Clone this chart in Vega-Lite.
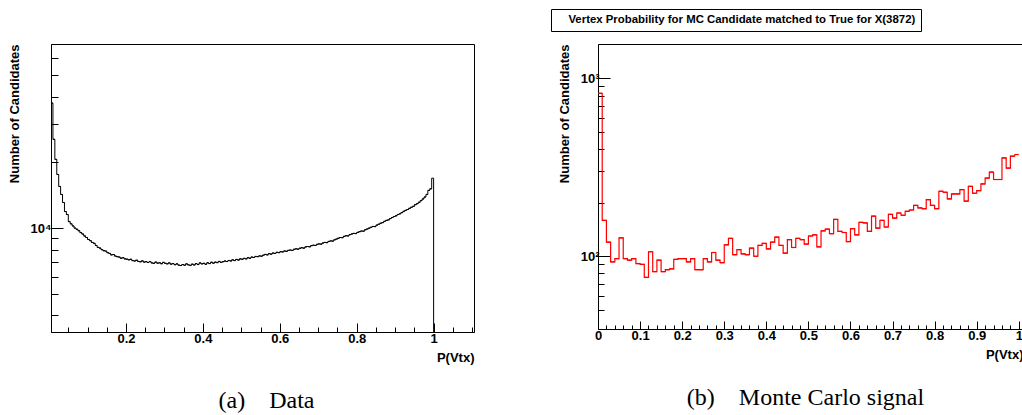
{
  "$schema": "https://vega.github.io/schema/vega-lite/v6.json",
  "background": "white",
  "padding": {"left": 7, "top": 8, "right": 0, "bottom": 0},
  "autosize": {"type": "pad"},
  "spacing": 75,
  "resolve": {"scale": {"stroke": "independent"}, "legend": {"stroke": "independent"}},
  "config": {
    "font": "Liberation Sans",
    "view": {"stroke": "black", "strokeWidth": 1},
    "axis": {
      "grid": false,
      "domainColor": "black",
      "domainWidth": 1,
      "tickColor": "black",
      "tickWidth": 1,
      "labelColor": "black",
      "labelFont": "Liberation Sans",
      "labelFontSize": 13,
      "labelFontWeight": "bold",
      "labelOverlap": false,
      "labelFlush": false,
      "titleColor": "black",
      "titleFont": "Liberation Sans",
      "titleFontSize": 13,
      "titleFontWeight": "bold"
    },
    "title": {
      "font": "Liberation Serif",
      "fontSize": 24,
      "fontWeight": "normal",
      "color": "black",
      "orient": "bottom",
      "anchor": "middle",
      "frame": "group",
      "offset": 25
    }
  },
  "datasets": {
    "data": [
      {"lo": 0.005, "hi": 0.01, "n": 37350}, {"lo": 0.01, "hi": 0.015, "n": 25500}, {"lo": 0.015, "hi": 0.02, "n": 20650},
      {"lo": 0.02, "hi": 0.025, "n": 17620}, {"lo": 0.025, "hi": 0.03, "n": 15530}, {"lo": 0.03, "hi": 0.035, "n": 14280},
      {"lo": 0.035, "hi": 0.04, "n": 13120}, {"lo": 0.04, "hi": 0.045, "n": 11930}, {"lo": 0.045, "hi": 0.05, "n": 11560},
      {"lo": 0.05, "hi": 0.055, "n": 10730}, {"lo": 0.055, "hi": 0.06, "n": 10480}, {"lo": 0.06, "hi": 0.065, "n": 10250},
      {"lo": 0.065, "hi": 0.07, "n": 10020}, {"lo": 0.07, "hi": 0.075, "n": 9900}, {"lo": 0.075, "hi": 0.08, "n": 9750},
      {"lo": 0.08, "hi": 0.085, "n": 9560}, {"lo": 0.085, "hi": 0.09, "n": 9420}, {"lo": 0.09, "hi": 0.095, "n": 9230},
      {"lo": 0.095, "hi": 0.1, "n": 9080}, {"lo": 0.1, "hi": 0.105, "n": 8890}, {"lo": 0.105, "hi": 0.11, "n": 8780},
      {"lo": 0.11, "hi": 0.115, "n": 8620}, {"lo": 0.115, "hi": 0.12, "n": 8540}, {"lo": 0.12, "hi": 0.125, "n": 8350},
      {"lo": 0.125, "hi": 0.13, "n": 8180}, {"lo": 0.13, "hi": 0.135, "n": 8120}, {"lo": 0.135, "hi": 0.14, "n": 7990},
      {"lo": 0.14, "hi": 0.145, "n": 7900}, {"lo": 0.145, "hi": 0.15, "n": 7870}, {"lo": 0.15, "hi": 0.155, "n": 7740},
      {"lo": 0.155, "hi": 0.16, "n": 7680}, {"lo": 0.16, "hi": 0.165, "n": 7560}, {"lo": 0.165, "hi": 0.17, "n": 7590},
      {"lo": 0.17, "hi": 0.175, "n": 7470}, {"lo": 0.175, "hi": 0.18, "n": 7420}, {"lo": 0.18, "hi": 0.185, "n": 7390},
      {"lo": 0.185, "hi": 0.19, "n": 7300}, {"lo": 0.19, "hi": 0.195, "n": 7340}, {"lo": 0.195, "hi": 0.2, "n": 7250},
      {"lo": 0.2, "hi": 0.205, "n": 7230}, {"lo": 0.205, "hi": 0.21, "n": 7180}, {"lo": 0.21, "hi": 0.215, "n": 7220},
      {"lo": 0.215, "hi": 0.22, "n": 7120}, {"lo": 0.22, "hi": 0.225, "n": 7090}, {"lo": 0.225, "hi": 0.23, "n": 7150},
      {"lo": 0.23, "hi": 0.235, "n": 7060}, {"lo": 0.235, "hi": 0.24, "n": 7030}, {"lo": 0.24, "hi": 0.245, "n": 7100},
      {"lo": 0.245, "hi": 0.25, "n": 7010}, {"lo": 0.25, "hi": 0.255, "n": 7040}, {"lo": 0.255, "hi": 0.26, "n": 6980},
      {"lo": 0.26, "hi": 0.265, "n": 7050}, {"lo": 0.265, "hi": 0.27, "n": 6950}, {"lo": 0.27, "hi": 0.275, "n": 6920},
      {"lo": 0.275, "hi": 0.28, "n": 7010}, {"lo": 0.28, "hi": 0.285, "n": 6930}, {"lo": 0.285, "hi": 0.29, "n": 6960},
      {"lo": 0.29, "hi": 0.295, "n": 6890}, {"lo": 0.295, "hi": 0.3, "n": 6990}, {"lo": 0.3, "hi": 0.305, "n": 6920},
      {"lo": 0.305, "hi": 0.31, "n": 6880}, {"lo": 0.31, "hi": 0.315, "n": 6950}, {"lo": 0.315, "hi": 0.32, "n": 6860},
      {"lo": 0.32, "hi": 0.325, "n": 6900}, {"lo": 0.325, "hi": 0.33, "n": 6820}, {"lo": 0.33, "hi": 0.335, "n": 6880},
      {"lo": 0.335, "hi": 0.34, "n": 6790}, {"lo": 0.34, "hi": 0.345, "n": 6760}, {"lo": 0.345, "hi": 0.35, "n": 6830},
      {"lo": 0.35, "hi": 0.355, "n": 6780}, {"lo": 0.355, "hi": 0.36, "n": 6880}, {"lo": 0.36, "hi": 0.365, "n": 6810},
      {"lo": 0.365, "hi": 0.37, "n": 6770}, {"lo": 0.37, "hi": 0.375, "n": 6860}, {"lo": 0.375, "hi": 0.38, "n": 6800},
      {"lo": 0.38, "hi": 0.385, "n": 6900}, {"lo": 0.385, "hi": 0.39, "n": 6830}, {"lo": 0.39, "hi": 0.395, "n": 6950},
      {"lo": 0.395, "hi": 0.4, "n": 6880}, {"lo": 0.4, "hi": 0.405, "n": 6920}, {"lo": 0.405, "hi": 0.41, "n": 6850},
      {"lo": 0.41, "hi": 0.415, "n": 6960}, {"lo": 0.415, "hi": 0.42, "n": 6900}, {"lo": 0.42, "hi": 0.425, "n": 7000},
      {"lo": 0.425, "hi": 0.43, "n": 6930}, {"lo": 0.43, "hi": 0.435, "n": 7010}, {"lo": 0.435, "hi": 0.44, "n": 6970},
      {"lo": 0.44, "hi": 0.445, "n": 7060}, {"lo": 0.445, "hi": 0.45, "n": 6990}, {"lo": 0.45, "hi": 0.455, "n": 7040},
      {"lo": 0.455, "hi": 0.46, "n": 7090}, {"lo": 0.46, "hi": 0.465, "n": 7050}, {"lo": 0.465, "hi": 0.47, "n": 7130},
      {"lo": 0.47, "hi": 0.475, "n": 7090}, {"lo": 0.475, "hi": 0.48, "n": 7180}, {"lo": 0.48, "hi": 0.485, "n": 7120},
      {"lo": 0.485, "hi": 0.49, "n": 7210}, {"lo": 0.49, "hi": 0.495, "n": 7160}, {"lo": 0.495, "hi": 0.5, "n": 7250},
      {"lo": 0.5, "hi": 0.505, "n": 7220}, {"lo": 0.505, "hi": 0.51, "n": 7290}, {"lo": 0.51, "hi": 0.515, "n": 7250},
      {"lo": 0.515, "hi": 0.52, "n": 7340}, {"lo": 0.52, "hi": 0.525, "n": 7300}, {"lo": 0.525, "hi": 0.53, "n": 7390},
      {"lo": 0.53, "hi": 0.535, "n": 7360}, {"lo": 0.535, "hi": 0.54, "n": 7440}, {"lo": 0.54, "hi": 0.545, "n": 7420},
      {"lo": 0.545, "hi": 0.55, "n": 7480}, {"lo": 0.55, "hi": 0.555, "n": 7460}, {"lo": 0.555, "hi": 0.56, "n": 7540},
      {"lo": 0.56, "hi": 0.565, "n": 7600}, {"lo": 0.565, "hi": 0.57, "n": 7560}, {"lo": 0.57, "hi": 0.575, "n": 7660},
      {"lo": 0.575, "hi": 0.58, "n": 7620}, {"lo": 0.58, "hi": 0.585, "n": 7710}, {"lo": 0.585, "hi": 0.59, "n": 7680},
      {"lo": 0.59, "hi": 0.595, "n": 7770}, {"lo": 0.595, "hi": 0.6, "n": 7740}, {"lo": 0.6, "hi": 0.605, "n": 7820},
      {"lo": 0.605, "hi": 0.61, "n": 7800}, {"lo": 0.61, "hi": 0.615, "n": 7880}, {"lo": 0.615, "hi": 0.62, "n": 7850},
      {"lo": 0.62, "hi": 0.625, "n": 7930}, {"lo": 0.625, "hi": 0.63, "n": 7960}, {"lo": 0.63, "hi": 0.635, "n": 7920},
      {"lo": 0.635, "hi": 0.64, "n": 8020}, {"lo": 0.64, "hi": 0.645, "n": 8060}, {"lo": 0.645, "hi": 0.65, "n": 8030},
      {"lo": 0.65, "hi": 0.655, "n": 8110}, {"lo": 0.655, "hi": 0.66, "n": 8150}, {"lo": 0.66, "hi": 0.665, "n": 8120},
      {"lo": 0.665, "hi": 0.67, "n": 8220}, {"lo": 0.67, "hi": 0.675, "n": 8260}, {"lo": 0.675, "hi": 0.68, "n": 8230},
      {"lo": 0.68, "hi": 0.685, "n": 8330}, {"lo": 0.685, "hi": 0.69, "n": 8370}, {"lo": 0.69, "hi": 0.695, "n": 8350},
      {"lo": 0.695, "hi": 0.7, "n": 8450}, {"lo": 0.7, "hi": 0.705, "n": 8490}, {"lo": 0.705, "hi": 0.71, "n": 8470},
      {"lo": 0.71, "hi": 0.715, "n": 8570}, {"lo": 0.715, "hi": 0.72, "n": 8620}, {"lo": 0.72, "hi": 0.725, "n": 8600},
      {"lo": 0.725, "hi": 0.73, "n": 8710}, {"lo": 0.73, "hi": 0.735, "n": 8760}, {"lo": 0.735, "hi": 0.74, "n": 8740},
      {"lo": 0.74, "hi": 0.745, "n": 8860}, {"lo": 0.745, "hi": 0.75, "n": 8930}, {"lo": 0.75, "hi": 0.755, "n": 9010},
      {"lo": 0.755, "hi": 0.76, "n": 9080}, {"lo": 0.76, "hi": 0.765, "n": 9060}, {"lo": 0.765, "hi": 0.77, "n": 9190},
      {"lo": 0.77, "hi": 0.775, "n": 9250}, {"lo": 0.775, "hi": 0.78, "n": 9230}, {"lo": 0.78, "hi": 0.785, "n": 9360},
      {"lo": 0.785, "hi": 0.79, "n": 9420}, {"lo": 0.79, "hi": 0.795, "n": 9480}, {"lo": 0.795, "hi": 0.8, "n": 9460},
      {"lo": 0.8, "hi": 0.805, "n": 9580}, {"lo": 0.805, "hi": 0.81, "n": 9650}, {"lo": 0.81, "hi": 0.815, "n": 9720},
      {"lo": 0.815, "hi": 0.82, "n": 9700}, {"lo": 0.82, "hi": 0.825, "n": 9850}, {"lo": 0.825, "hi": 0.83, "n": 9930},
      {"lo": 0.83, "hi": 0.835, "n": 10020}, {"lo": 0.835, "hi": 0.84, "n": 10110}, {"lo": 0.84, "hi": 0.845, "n": 10200},
      {"lo": 0.845, "hi": 0.85, "n": 10180}, {"lo": 0.85, "hi": 0.855, "n": 10340}, {"lo": 0.855, "hi": 0.86, "n": 10440},
      {"lo": 0.86, "hi": 0.865, "n": 10550}, {"lo": 0.865, "hi": 0.87, "n": 10620}, {"lo": 0.87, "hi": 0.875, "n": 10760},
      {"lo": 0.875, "hi": 0.88, "n": 10870}, {"lo": 0.88, "hi": 0.885, "n": 10930}, {"lo": 0.885, "hi": 0.89, "n": 11080},
      {"lo": 0.89, "hi": 0.895, "n": 11200}, {"lo": 0.895, "hi": 0.9, "n": 11320}, {"lo": 0.9, "hi": 0.905, "n": 11410},
      {"lo": 0.905, "hi": 0.91, "n": 11560}, {"lo": 0.91, "hi": 0.915, "n": 11650}, {"lo": 0.915, "hi": 0.92, "n": 11800},
      {"lo": 0.92, "hi": 0.925, "n": 11960}, {"lo": 0.925, "hi": 0.93, "n": 12080}, {"lo": 0.93, "hi": 0.935, "n": 12190},
      {"lo": 0.935, "hi": 0.94, "n": 12340}, {"lo": 0.94, "hi": 0.945, "n": 12480}, {"lo": 0.945, "hi": 0.95, "n": 12600},
      {"lo": 0.95, "hi": 0.955, "n": 12820}, {"lo": 0.955, "hi": 0.96, "n": 12960}, {"lo": 0.96, "hi": 0.965, "n": 13150},
      {"lo": 0.965, "hi": 0.97, "n": 13380}, {"lo": 0.97, "hi": 0.975, "n": 13620}, {"lo": 0.975, "hi": 0.98, "n": 13900},
      {"lo": 0.98, "hi": 0.985, "n": 14280}, {"lo": 0.985, "hi": 0.99, "n": 14900}, {"lo": 0.99, "hi": 0.995, "n": 15150},
      {"lo": 0.995, "hi": 1, "n": 16950}
    ],
    "mc": [
      {"lo": 0, "hi": 0.01, "n": 824}, {"lo": 0.01, "hi": 0.02, "n": 159}, {"lo": 0.02, "hi": 0.03, "n": 120},
      {"lo": 0.03, "hi": 0.04, "n": 93}, {"lo": 0.04, "hi": 0.05, "n": 97}, {"lo": 0.05, "hi": 0.06, "n": 127},
      {"lo": 0.06, "hi": 0.07, "n": 97}, {"lo": 0.07, "hi": 0.08, "n": 95}, {"lo": 0.08, "hi": 0.09, "n": 97},
      {"lo": 0.09, "hi": 0.1, "n": 91}, {"lo": 0.1, "hi": 0.11, "n": 90}, {"lo": 0.11, "hi": 0.12, "n": 76},
      {"lo": 0.12, "hi": 0.13, "n": 106}, {"lo": 0.13, "hi": 0.14, "n": 82}, {"lo": 0.14, "hi": 0.15, "n": 95},
      {"lo": 0.15, "hi": 0.16, "n": 82}, {"lo": 0.16, "hi": 0.17, "n": 84}, {"lo": 0.17, "hi": 0.18, "n": 85},
      {"lo": 0.18, "hi": 0.19, "n": 96}, {"lo": 0.19, "hi": 0.2, "n": 97}, {"lo": 0.2, "hi": 0.21, "n": 97},
      {"lo": 0.21, "hi": 0.22, "n": 93}, {"lo": 0.22, "hi": 0.23, "n": 97}, {"lo": 0.23, "hi": 0.24, "n": 84},
      {"lo": 0.24, "hi": 0.25, "n": 84}, {"lo": 0.25, "hi": 0.26, "n": 97}, {"lo": 0.26, "hi": 0.27, "n": 93},
      {"lo": 0.27, "hi": 0.28, "n": 105}, {"lo": 0.28, "hi": 0.29, "n": 95}, {"lo": 0.29, "hi": 0.3, "n": 92},
      {"lo": 0.3, "hi": 0.31, "n": 116}, {"lo": 0.31, "hi": 0.32, "n": 126}, {"lo": 0.32, "hi": 0.33, "n": 102},
      {"lo": 0.33, "hi": 0.34, "n": 109}, {"lo": 0.34, "hi": 0.35, "n": 103}, {"lo": 0.35, "hi": 0.36, "n": 102},
      {"lo": 0.36, "hi": 0.37, "n": 111}, {"lo": 0.37, "hi": 0.38, "n": 100}, {"lo": 0.38, "hi": 0.39, "n": 115},
      {"lo": 0.39, "hi": 0.4, "n": 118}, {"lo": 0.4, "hi": 0.41, "n": 110}, {"lo": 0.41, "hi": 0.42, "n": 120},
      {"lo": 0.42, "hi": 0.43, "n": 128}, {"lo": 0.43, "hi": 0.44, "n": 115}, {"lo": 0.44, "hi": 0.45, "n": 104},
      {"lo": 0.45, "hi": 0.46, "n": 124}, {"lo": 0.46, "hi": 0.47, "n": 112}, {"lo": 0.47, "hi": 0.48, "n": 126},
      {"lo": 0.48, "hi": 0.49, "n": 124}, {"lo": 0.49, "hi": 0.5, "n": 117}, {"lo": 0.5, "hi": 0.51, "n": 130},
      {"lo": 0.51, "hi": 0.52, "n": 132}, {"lo": 0.52, "hi": 0.53, "n": 113}, {"lo": 0.53, "hi": 0.54, "n": 139},
      {"lo": 0.54, "hi": 0.55, "n": 142}, {"lo": 0.55, "hi": 0.56, "n": 134}, {"lo": 0.56, "hi": 0.57, "n": 161},
      {"lo": 0.57, "hi": 0.58, "n": 138}, {"lo": 0.58, "hi": 0.59, "n": 136}, {"lo": 0.59, "hi": 0.6, "n": 121},
      {"lo": 0.6, "hi": 0.61, "n": 143}, {"lo": 0.61, "hi": 0.62, "n": 132}, {"lo": 0.62, "hi": 0.63, "n": 155},
      {"lo": 0.63, "hi": 0.64, "n": 154}, {"lo": 0.64, "hi": 0.65, "n": 138}, {"lo": 0.65, "hi": 0.66, "n": 168},
      {"lo": 0.66, "hi": 0.67, "n": 144}, {"lo": 0.67, "hi": 0.68, "n": 159}, {"lo": 0.68, "hi": 0.69, "n": 146},
      {"lo": 0.69, "hi": 0.7, "n": 172}, {"lo": 0.7, "hi": 0.71, "n": 164}, {"lo": 0.71, "hi": 0.72, "n": 175},
      {"lo": 0.72, "hi": 0.73, "n": 170}, {"lo": 0.73, "hi": 0.74, "n": 179}, {"lo": 0.74, "hi": 0.75, "n": 182},
      {"lo": 0.75, "hi": 0.76, "n": 193}, {"lo": 0.76, "hi": 0.77, "n": 187}, {"lo": 0.77, "hi": 0.78, "n": 185},
      {"lo": 0.78, "hi": 0.79, "n": 208}, {"lo": 0.79, "hi": 0.8, "n": 193}, {"lo": 0.8, "hi": 0.81, "n": 185},
      {"lo": 0.81, "hi": 0.82, "n": 232}, {"lo": 0.82, "hi": 0.83, "n": 229}, {"lo": 0.83, "hi": 0.84, "n": 210},
      {"lo": 0.84, "hi": 0.85, "n": 224}, {"lo": 0.85, "hi": 0.86, "n": 224}, {"lo": 0.86, "hi": 0.87, "n": 237},
      {"lo": 0.87, "hi": 0.88, "n": 204}, {"lo": 0.88, "hi": 0.89, "n": 247}, {"lo": 0.89, "hi": 0.9, "n": 226},
      {"lo": 0.9, "hi": 0.91, "n": 234}, {"lo": 0.91, "hi": 0.92, "n": 255}, {"lo": 0.92, "hi": 0.93, "n": 275},
      {"lo": 0.93, "hi": 0.94, "n": 297}, {"lo": 0.94, "hi": 0.95, "n": 270}, {"lo": 0.95, "hi": 0.96, "n": 270},
      {"lo": 0.96, "hi": 0.97, "n": 357}, {"lo": 0.97, "hi": 0.98, "n": 313}, {"lo": 0.98, "hi": 0.99, "n": 365},
      {"lo": 0.99, "hi": 1, "n": 373}
    ]
  },
  "hconcat": [
    {
      "width": 423,
      "height": 288,
      "title": {"text": "(a)\u2003Data", "dx": 4},
      "data": {"name": "data"},
      "encoding": {
        "x": {
          "field": "lo",
          "type": "quantitative",
          "title": "P(Vtx)",
          "scale": {"domain": [0.005, 1.105], "nice": false, "zero": false},
          "axis": {
            "values": [0.05, 0.1, 0.15, 0.2, 0.25, 0.3, 0.35, 0.4, 0.45, 0.5, 0.55, 0.6, 0.65, 0.7, 0.75, 0.8, 0.85, 0.9, 0.95, 1, 1.05, 1.1],
            "format": "~g",
            "labelExpr": "abs(datum.value * 5 - round(datum.value * 5)) < 1e-6 ? datum.label : ''",
            "tickSize": {"condition": {"test": "abs(datum.value * 5 - round(datum.value * 5)) < 1e-6", "value": -9}, "value": -5},
            "labelPadding": 9,
            "titleAnchor": "end",
            "titlePadding": 2
          }
        },
        "y": {
          "field": "n",
          "type": "quantitative",
          "title": "Number of Candidates",
          "scale": {"type": "log", "domain": [3360, 69500], "nice": false},
          "axis": {
            "values": [4000, 5000, 6000, 7000, 8000, 9000, 10000, 20000, 30000, 40000, 50000, 60000],
            "labelExpr": "datum.value == 10000 ? '10⁴' : ''",
            "tickSize": {"condition": {"test": "datum.value == 10000", "value": -12}, "value": -7},
            "labelPadding": 12,
            "titleAnchor": "end",
            "titlePadding": 9
          }
        }
      },
      "layer": [
        {"mark": {"type": "line", "interpolate": "step-after", "color": "black", "strokeWidth": 1}},
        {"mark": {"type": "rule", "color": "black", "strokeWidth": 1}, "encoding": {"x2": {"field": "hi"}}},
        {
          "transform": [{"filter": "datum.hi === 1"}],
          "mark": {"type": "rule", "color": "black", "strokeWidth": 1, "clip": true},
          "encoding": {"x": {"field": "hi", "type": "quantitative", "title": "P(Vtx)"}, "y2": {"datum": 1}}
        }
      ]
    },
    {
      "width": 425,
      "height": 285,
      "title": {"text": "(b)\u2003Monte Carlo signal", "dx": -5},
      "data": {"name": "mc"},
      "encoding": {
        "x": {
          "field": "lo",
          "type": "quantitative",
          "title": "P(Vtx)",
          "scale": {"domain": [0, 1.01], "nice": false, "zero": false},
          "axis": {
            "values": [0, 0.02, 0.04, 0.06, 0.08, 0.1, 0.12, 0.14, 0.16, 0.18, 0.2, 0.22, 0.24, 0.26, 0.28, 0.3, 0.32, 0.34, 0.36, 0.38, 0.4, 0.42, 0.44, 0.46, 0.48, 0.5, 0.52, 0.54, 0.56, 0.58, 0.6, 0.62, 0.64, 0.66, 0.68, 0.7, 0.72, 0.74, 0.76, 0.78, 0.8, 0.82, 0.84, 0.86, 0.88, 0.9, 0.92, 0.94, 0.96, 0.98, 1],
            "format": "~g",
            "labelExpr": "abs(datum.value * 10 - round(datum.value * 10)) < 1e-6 ? datum.label : ''",
            "tickSize": {"condition": {"test": "abs(datum.value * 10 - round(datum.value * 10)) < 1e-6", "value": -8}, "value": -4},
            "labelPadding": 8,
            "titleAnchor": "end",
            "titlePadding": 2
          }
        },
        "y": {
          "field": "n",
          "type": "quantitative",
          "title": "Number of Candidates",
          "scale": {"type": "log", "domain": [39, 1560], "nice": false},
          "axis": {
            "values": [50, 60, 70, 80, 90, 100, 200, 300, 400, 500, 600, 700, 800, 900, 1000],
            "labelExpr": "datum.value == 100 ? '10²' : datum.value == 1000 ? '10³' : ''",
            "tickSize": {"condition": {"test": "datum.value == 100 || datum.value == 1000", "value": -12}, "value": -6},
            "labelPadding": 11,
            "titleAnchor": "end",
            "titlePadding": 9
          }
        }
      },
      "layer": [
        {
          "mark": {"type": "line", "interpolate": "step-after", "strokeWidth": 1.2},
          "encoding": {
            "stroke": {
              "datum": "Vertex Probability for MC Candidate matched to True for X(3872)",
              "scale": {"range": ["#ff0000"]},
              "legend": {
                "orient": "none",
                "legendX": -47,
                "legendY": -35,
                "title": null,
                "strokeColor": "black",
                "fillColor": "white",
                "padding": 5,
                "symbolOpacity": 0,
                "symbolSize": 30,
                "symbolStrokeWidth": 0,
                "labelOffset": 1,
                "labelFont": "Liberation Sans",
                "labelFontSize": 11.4,
                "labelFontWeight": "bold",
                "labelColor": "black",
                "labelLimit": 0
              }
            }
          }
        },
        {"mark": {"type": "rule", "color": "#ff0000", "strokeWidth": 1.2}, "encoding": {"x2": {"field": "hi"}}}
      ]
    }
  ]
}
